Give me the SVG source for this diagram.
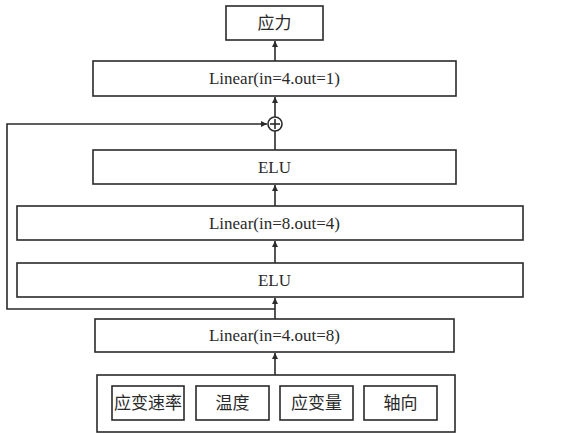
<svg xmlns="http://www.w3.org/2000/svg" width="579" height="433" viewBox="0 0 579 433">
<style>
.box{fill:#fff;stroke:#2a2a2a;stroke-width:1.6}
.t{font-family:"Liberation Serif","Noto Sans CJK SC",serif;font-size:17px;fill:#2a2a2a;text-anchor:middle;dominant-baseline:central}
.c{fill:none;stroke:#2a2a2a;stroke-width:1.6}
</style>
<defs>
<marker id="ah" viewBox="0 0 8 8" refX="8" refY="4" markerWidth="6" markerHeight="6" markerUnits="userSpaceOnUse" orient="auto">
<path d="M0,0 L8,4 L0,8 z" fill="#2a2a2a"/>
</marker>
</defs>
<rect width="579" height="433" fill="#fff"/>
<g id="connectors">
<line class="c" x1="275" y1="61" x2="275" y2="41" marker-end="url(#ah)"/>
<line class="c" x1="275" y1="117" x2="275" y2="97" marker-end="url(#ah)"/>
<line class="c" x1="275" y1="150" x2="275" y2="131"/>
<line class="c" x1="275" y1="206" x2="275" y2="185" marker-end="url(#ah)"/>
<line class="c" x1="275" y1="263" x2="275" y2="241" marker-end="url(#ah)"/>
<line class="c" x1="275" y1="319" x2="275" y2="298" marker-end="url(#ah)"/>
<line class="c" x1="275" y1="375" x2="275" y2="353" marker-end="url(#ah)"/>
<polyline class="c" points="275,309 7,309 7,124 267,124" marker-end="url(#ah)"/>
</g>
<g id="sum">
<circle class="box" cx="275" cy="124" r="7"/>
<line class="c" x1="270" y1="124" x2="280" y2="124" stroke-width="1.2"/>
<line class="c" x1="275" y1="119" x2="275" y2="129" stroke-width="1.2"/>
</g>
<g id="output">
<rect class="box" x="226" y="6" width="97" height="34"/>
<text class="t" x="274.5" y="23">应力</text>
</g>
<g id="linear41">
<rect class="box" x="93" y="61" width="363" height="35"/>
<text class="t" x="274.5" y="78.5">Linear(in=4.out=1)</text>
</g>
<g id="elu1">
<rect class="box" x="93" y="150" width="363" height="34"/>
<text class="t" x="274.5" y="167">ELU</text>
</g>
<g id="linear84">
<rect class="box" x="17" y="206" width="506" height="34"/>
<text class="t" x="274.5" y="223">Linear(in=8.out=4)</text>
</g>
<g id="elu2">
<rect class="box" x="17" y="263" width="506" height="34"/>
<text class="t" x="274.5" y="280">ELU</text>
</g>
<g id="linear48">
<rect class="box" x="95" y="319" width="359" height="33"/>
<text class="t" x="274.5" y="335.5">Linear(in=4.out=8)</text>
</g>
<g id="inputs">
<rect class="box" x="97" y="375" width="358" height="57"/>
<rect class="box" x="112" y="386" width="72" height="34"/>
<text class="t" x="148" y="403">应变速率</text>
<rect class="box" x="196" y="386" width="73" height="34"/>
<text class="t" x="232.5" y="403">温度</text>
<rect class="box" x="280" y="386" width="73" height="34"/>
<text class="t" x="316.5" y="403">应变量</text>
<rect class="box" x="364" y="386" width="73" height="34"/>
<text class="t" x="400.5" y="403">轴向</text>
</g>
</svg>
